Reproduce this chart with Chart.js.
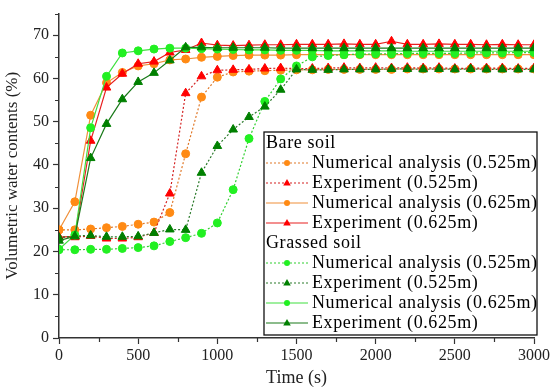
<!DOCTYPE html>
<html>
<head>
<meta charset="utf-8">
<script src="https://cdn.jsdelivr.net/npm/chart.js@4/dist/chart.umd.min.js"></script>
<style>
    body { margin: 0; background: #fff; }
    canvas { display: block; }
</style>
</head>
<body>
<canvas id="graficaHumedad" width="552" height="390"></canvas>
<script>
// Datos (tiempo en s, contenido volumétrico en %)
const tiempos = [0, 100, 200, 300, 400, 500, 600, 700, 800, 900, 1000, 1100, 1200, 1300, 1400, 1500,
    1600, 1700, 1800, 1900, 2000, 2100, 2200, 2300, 2400, 2500, 2600, 2700, 2800, 2900, 3000];

const desnudoNum525 = [25.0, 25.0, 25.2, 25.5, 25.8, 26.3, 26.8, 29.0, 42.6, 55.7, 60.3, 61.5, 61.7, 61.8, 61.9, 62.0,
    62.0, 62.1, 62.1, 62.1, 62.1, 62.1, 62.2, 62.2, 62.2, 62.2, 62.2, 62.2, 62.2, 62.2, 62.2];
const desnudoExp525 = [23.3, 23.3, 23.6, 23.0, 23.0, 23.3, 24.3, 33.4, 56.6, 60.5, 61.9, 62.0, 62.1, 62.3, 62.4, 62.3,
    62.3, 62.4, 62.5, 62.4, 62.5, 62.4, 62.5, 62.4, 62.5, 62.3, 62.4, 62.4, 62.4, 62.3, 62.4];
const desnudoNum625 = [25.0, 31.5, 51.5, 59.0, 61.4, 62.9, 63.4, 64.3, 64.5, 64.9, 65.1, 65.3, 65.4, 65.4, 65.4, 65.5,
    65.5, 65.5, 65.5, 65.5, 65.5, 65.5, 65.5, 65.5, 65.5, 65.5, 65.5, 65.5, 65.5, 65.5, 65.5];
const desnudoExp625 = [23.3, 23.5, 45.6, 57.9, 61.1, 63.4, 63.9, 66.0, 66.6, 68.2, 67.7, 67.6, 67.7, 67.8, 67.8, 67.9,
    67.9, 67.9, 68.0, 67.9, 67.9, 68.6, 67.9, 67.9, 68.0, 67.9, 67.9, 67.8, 67.9, 67.8, 67.8];

const cespedNum525 = [20.4, 20.4, 20.5, 20.5, 20.7, 20.9, 21.3, 22.3, 23.2, 24.2, 26.6, 34.3, 46.1, 54.7, 59.9, 62.9,
    65.0, 65.3, 65.5, 65.6, 65.7, 65.7, 65.8, 65.8, 65.8, 65.8, 65.9, 65.9, 65.9, 66.0, 66.0];
const cespedExp525 = [23.2, 23.6, 23.7, 23.4, 23.4, 23.5, 24.3, 25.1, 25.0, 38.2, 44.4, 48.2, 51.1, 53.5, 57.4, 62.1,
    62.0, 62.0, 62.1, 62.1, 62.1, 62.2, 62.2, 62.1, 62.2, 62.1, 62.2, 62.1, 62.1, 62.1, 62.1];
const cespedNum625 = [20.5, 23.8, 48.6, 60.5, 65.9, 66.4, 66.8, 67.0, 67.0, 66.9, 66.8, 66.7, 66.6, 66.6, 66.5, 66.5,
    66.5, 66.4, 66.4, 66.4, 66.4, 66.4, 66.3, 66.3, 66.3, 66.3, 66.3, 66.3, 66.3, 66.3, 66.3];
const cespedExp625 = [22.5, 23.5, 41.6, 49.5, 55.2, 59.2, 61.3, 64.2, 67.2, 67.2, 67.1, 67.1, 67.1, 67.1, 67.0, 67.0,
    67.0, 67.0, 67.0, 67.0, 67.0, 67.0, 67.0, 67.0, 67.0, 67.0, 67.0, 67.0, 67.0, 67.0, 67.0];

const ticksX = [0, 500, 1000, 1500, 2000, 2500, 3000];
const ticksY = [0, 10, 20, 30, 40, 50, 60, 70];

const NARANJA = '#ff8a14';
const ROJO = '#ff0000';
const VERDE = '#22f022';
const VERDE_OSCURO = '#008000';
const FUENTE = "'Liberation Serif', 'Times New Roman', serif";

const puntos = (valores) => tiempos.map((t, i) => ({ x: t, y: valores[i] }));

function serie(label, valores, color, lineColor, punteada, estilo, orden) {
    return {
        label: label,
        data: puntos(valores),
        borderColor: lineColor,
        backgroundColor: color,
        borderWidth: 1.2,
        borderDash: punteada ? [2, 2] : [],
        pointStyle: estilo,
        pointRadius: estilo === 'triangle' ? 5 : 4,
        pointBackgroundColor: color,
        pointBorderColor: color,
        pointBorderWidth: 1,
        tension: 0,
        order: orden
    };
}

// Leyenda agrupada (Bare soil / Grassed soil) dibujada a mano
const grupos = [
    { titulo: 'Bare soil', series: [0, 1, 2, 3] },
    { titulo: 'Grassed soil', series: [4, 5, 6, 7] }
];

function marcador(ctx, estilo, x, y, r, color) {
    ctx.fillStyle = color;
    ctx.beginPath();
    if (estilo === 'triangle') {
        ctx.moveTo(x, y - r);
        ctx.lineTo(x + r * 0.95, y + r * 0.6);
        ctx.lineTo(x - r * 0.95, y + r * 0.6);
        ctx.closePath();
    } else {
        ctx.arc(x, y, r, 0, Math.PI * 2);
    }
    ctx.fill();
}

const leyendaAgrupada = {
    id: 'leyendaAgrupada',
    afterDraw(chart) {
        const ctx = chart.ctx;
        const x0 = 264, y0 = 132, ancho = 273, alto = 203;
        ctx.save();
        ctx.fillStyle = '#fff';
        ctx.fillRect(x0, y0, ancho, alto);
        ctx.strokeStyle = '#111';
        ctx.lineWidth = 1.3;
        ctx.strokeRect(x0, y0, ancho, alto);
        ctx.font = '18px ' + FUENTE;
        ctx.letterSpacing = '0.6px';
        ctx.textBaseline = 'middle';
        let y = 143;
        grupos.forEach(g => {
            ctx.fillStyle = '#000';
            ctx.fillText(g.titulo, x0 + 2, y);
            y += 20;
            g.series.forEach(i => {
                const ds = chart.data.datasets[i];
                ctx.strokeStyle = ds.borderColor;
                ctx.lineWidth = 1.2;
                ctx.setLineDash(ds.borderDash);
                ctx.beginPath();
                ctx.moveTo(x0 + 2, y);
                ctx.lineTo(x0 + 44, y);
                ctx.stroke();
                ctx.setLineDash([]);
                marcador(ctx, ds.pointStyle, x0 + 23, y, ds.pointStyle === 'triangle' ? 4 : 3, ds.pointBackgroundColor);
                ctx.fillStyle = '#000';
                ctx.fillText(ds.label, x0 + 48, y);
                y += 20;
            });
        });
        ctx.restore();
    }
};

// Marcas menores de los ejes
const marcasMenores = {
    id: 'marcasMenores',
    afterDraw(chart) {
        const ctx = chart.ctx;
        const sx = chart.scales.x, sy = chart.scales.y;
        ctx.save();
        ctx.strokeStyle = '#333';
        ctx.lineWidth = 1.2;
        ctx.beginPath();
        for (let v = 250; v < 3000; v += 500) {
            const px = Math.round(sx.getPixelForValue(v)) + 0.5;
            ctx.moveTo(px, sy.bottom);
            ctx.lineTo(px, sy.bottom + 4);
        }
        for (let v = 5; v <= 75; v += 10) {
            const py = Math.round(sy.getPixelForValue(v)) + 0.5;
            ctx.moveTo(sx.left, py);
            ctx.lineTo(sx.left - 4, py);
        }
        ctx.stroke();
        ctx.restore();
    }
};

const ctxHumedad = document.getElementById('graficaHumedad').getContext('2d');
new Chart(ctxHumedad, {
    type: 'line',
    data: {
        datasets: [
            serie('Numerical analysis (0.525m)', desnudoNum525, NARANJA, '#e07828', true, 'circle', 8),
            serie('Experiment (0.525m)', desnudoExp525, ROJO, '#d42020', true, 'triangle', 7),
            serie('Numerical analysis (0.625m)', desnudoNum625, NARANJA, '#f0903a', false, 'circle', 6),
            serie('Experiment (0.625m)', desnudoExp625, ROJO, '#e82020', false, 'triangle', 5),
            serie('Numerical analysis (0.525m)', cespedNum525, VERDE, '#30d030', true, 'circle', 4),
            serie('Experiment (0.525m)', cespedExp525, VERDE_OSCURO, '#2a7a2a', true, 'triangle', 3),
            serie('Numerical analysis (0.625m)', cespedNum625, VERDE, '#40e040', false, 'circle', 2),
            serie('Experiment (0.625m)', cespedExp625, VERDE_OSCURO, '#1a7a1a', false, 'triangle', 1)
        ]
    },
    options: {
        responsive: false,
        animation: false,
        devicePixelRatio: 1,
        layout: {
            padding: { top: 10, right: 16, left: 0, bottom: 0 }
        },
        plugins: {
            legend: { display: false },
            tooltip: { enabled: false }
        },
        scales: {
            x: {
                type: 'linear',
                min: 0,
                max: 3000,
                afterFit: (scale) => { scale.height = 52; },
                afterBuildTicks: (scale) => { scale.ticks = ticksX.map(v => ({ value: v })); },
                border: { color: '#333', width: 1.5 },
                grid: { drawOnChartArea: false, drawTicks: true, tickLength: 6, color: '#333', tickWidth: 1.2 },
                ticks: {
                    font: { family: FUENTE, size: 16 },
                    color: '#222',
                    padding: 2,
                    maxRotation: 0,
                    callback: (v) => String(v)
                },
                title: {
                    display: true,
                    text: 'Time (s)',
                    font: { family: FUENTE, size: 18 },
                    color: '#222',
                    padding: { top: 0, bottom: 1 }
                }
            },
            y: {
                min: 0,
                max: 75,
                afterFit: (scale) => { scale.width = 59; },
                afterBuildTicks: (scale) => { scale.ticks = ticksY.map(v => ({ value: v })); },
                border: { color: '#333', width: 1.5 },
                grid: { drawOnChartArea: false, drawTicks: true, tickLength: 6, color: '#333', tickWidth: 1.2 },
                ticks: {
                    font: { family: FUENTE, size: 16 },
                    color: '#222',
                    padding: 4,
                    callback: (v) => String(v)
                },
                title: {
                    display: true,
                    text: 'Volumetric water contents (%)',
                    font: { family: FUENTE, size: 17 },
                    color: '#222',
                    padding: { top: 2, bottom: 0 }
                }
            }
        }
    },
    plugins: [marcasMenores, leyendaAgrupada]
});
</script>
</body>
</html>
